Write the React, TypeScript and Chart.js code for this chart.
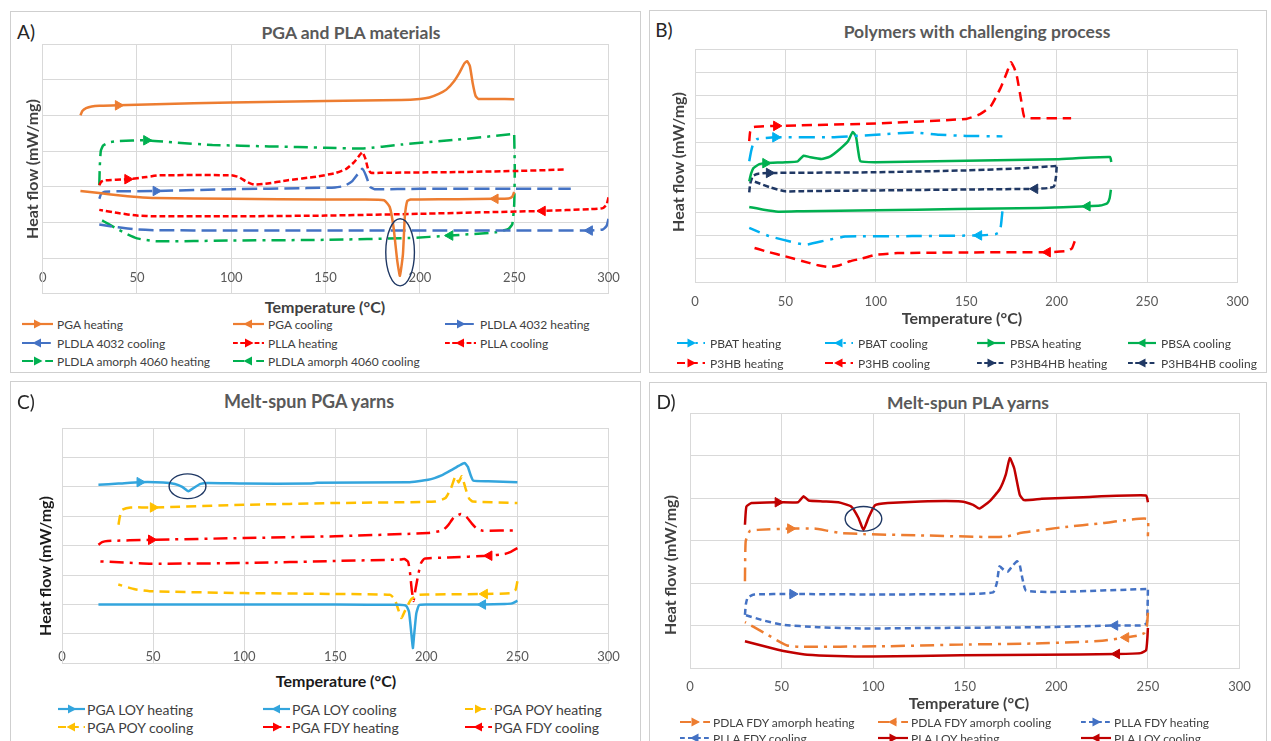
import React, { useEffect, useRef } from 'react';
import { Chart, registerables } from 'chart.js';

Chart.register(...registerables);

const FONT = 'Lato, "Open Sans", "Liberation Sans", sans-serif';
Chart.defaults.font.family = FONT;

// ---------- shared axis ticks ----------
const tempTicks = [0, 50, 100, 150, 200, 250, 300];

// ---------- Panel A: PGA and PLA materials ----------
const pgaHeatT = [20, 21, 23, 26, 30, 40, 60, 100, 150, 190, 200, 205, 210, 214, 218, 221, 223.5, 225, 226.5, 228, 229.5, 231, 240, 250];
const pgaHeatHF = [4.0, 4.12, 4.2, 4.25, 4.27, 4.28, 4.31, 4.36, 4.4, 4.43, 4.46, 4.5, 4.6, 4.72, 4.95, 5.2, 5.45, 5.52, 5.38, 4.9, 4.55, 4.46, 4.46, 4.45];
const pgaCoolT = [250, 249, 247, 240, 220, 200, 195, 193.3, 192, 191, 189.4, 188, 186, 184, 181, 170, 150, 100, 60, 50, 40, 30, 20];
const pgaCoolHF = [1.85, 1.72, 1.67, 1.66, 1.65, 1.64, 1.64, 1.6, 1.15, 0.1, -0.5, -0.08, 0.87, 1.43, 1.62, 1.64, 1.64, 1.66, 1.68, 1.71, 1.76, 1.82, 1.88];
const pldla4032HeatT = [30, 31, 33, 40, 60, 100, 140, 155, 160, 164, 167, 169.5, 171.5, 173.5, 176, 200, 250, 280];
const pldla4032HeatHF = [1.66, 1.8, 1.86, 1.87, 1.88, 1.93, 1.96, 1.98, 2.02, 2.15, 2.35, 2.5, 2.3, 2.0, 1.93, 1.94, 1.94, 1.94];
const pldla4032CoolT = [300, 299, 297, 290, 250, 200, 100, 60, 50, 40, 30];
const pldla4032CoolHF = [1.1, 0.9, 0.8, 0.77, 0.77, 0.77, 0.77, 0.78, 0.8, 0.86, 0.94];
const pllaHeatT = [30, 31, 33, 45, 55, 62, 100, 104, 108, 112, 118, 130, 145, 155, 161, 165, 168, 169.5, 171, 172.5, 174, 180, 220, 250, 277];
const pllaHeatHF = [2.04, 2.14, 2.18, 2.21, 2.27, 2.32, 2.32, 2.27, 2.14, 2.06, 2.08, 2.18, 2.28, 2.38, 2.5, 2.68, 2.88, 2.97, 2.8, 2.5, 2.39, 2.39, 2.41, 2.44, 2.48];
const pllaCoolT = [300, 299, 297, 290, 265, 240, 200, 150, 100, 60, 50, 40, 30];
const pllaCoolHF = [1.7, 1.5, 1.4, 1.37, 1.32, 1.29, 1.24, 1.19, 1.17, 1.17, 1.19, 1.26, 1.35];
const amorphHeatT = [30, 30.3, 30.8, 32, 35, 40, 55, 70, 90, 120, 150, 170, 190, 220, 250];
const amorphHeatHF = [2.04, 2.6, 3.0, 3.15, 3.24, 3.28, 3.3, 3.24, 3.17, 3.13, 3.09, 3.07, 3.18, 3.32, 3.48];
const amorphCoolT = [250, 250.3, 250, 249, 247, 240, 216, 194, 150, 100, 60, 50, 45, 40, 35, 30];
const amorphCoolHF = [3.45, 2.5, 1.5, 0.95, 0.82, 0.72, 0.63, 0.56, 0.51, 0.49, 0.47, 0.55, 0.66, 0.8, 0.95, 1.1];
const ellipseA = { cx: 189.5, cy: 0.16, rx: 7.6, ry: 0.94 };

// ---------- Panel B: Polymers with challenging process ----------
const pbatHeatT = [30, 31, 32.3, 34.5, 44.5, 75, 100, 121, 135, 150, 170];
const pbatHeatHF = [5.18, 5.6, 5.97, 6.14, 6.21, 6.21, 6.32, 6.42, 6.32, 6.27, 6.25];
const pbatCoolT = [170, 169.3, 168.5, 166, 157, 120, 90, 83, 72, 61, 52, 41, 30];
const pbatCoolHF = [3.03, 2.5, 2.15, 2.05, 2.0, 1.97, 1.96, 1.95, 1.78, 1.6, 1.75, 1.97, 2.32];
const pbsaHeatT = [30, 31, 32.3, 35.6, 39, 50, 56.8, 60, 63.4, 70, 74.6, 80, 84.6, 87.2, 89, 90.3, 91.5, 100, 150, 200, 229.5, 230.2];
const pbsaHeatHF = [4.32, 4.65, 4.89, 5.06, 5.1, 5.14, 5.18, 5.42, 5.36, 5.28, 5.38, 5.7, 6.04, 6.44, 6.25, 5.6, 5.18, 5.14, 5.2, 5.27, 5.36, 5.15];
const pbsaCoolT = [230, 229.3, 228, 224, 217, 190, 145, 100, 60, 46, 38, 30];
const pbsaCoolHF = [3.96, 3.6, 3.38, 3.28, 3.25, 3.18, 3.13, 3.08, 3.04, 3.02, 3.1, 3.22];
const p3hbHeatT = [30, 30.5, 32, 45, 100, 150, 157, 163.5, 169, 172.5, 174.7, 176.5, 178, 180.3, 182, 185, 208];
const p3hbHeatHF = [6.05, 6.45, 6.65, 6.7, 6.8, 7.0, 7.18, 7.54, 8.33, 9.0, 9.43, 9.2, 8.83, 7.83, 7.1, 7.03, 7.03];
const p3hbCoolT = [210, 208.5, 206, 195, 150, 112, 100, 92, 85.7, 80, 74.6, 68, 63, 50, 40, 30];
const p3hbCoolHF = [1.75, 1.45, 1.33, 1.28, 1.27, 1.24, 1.17, 1.0, 0.89, 0.72, 0.64, 0.72, 0.82, 1.1, 1.3, 1.53];
const p3hb4hbHeatT = [30, 30.5, 32, 35, 41, 100, 150, 180, 200];
const p3hb4hbHeatHF = [3.85, 4.2, 4.55, 4.65, 4.68, 4.71, 4.79, 4.88, 4.98];
const p3hb4hbCoolT = [200, 199.6, 198.5, 195, 188, 150, 100, 60, 50, 42, 35, 30];
const p3hb4hbCoolHF = [4.95, 4.5, 4.1, 4.03, 4.0, 3.97, 3.93, 3.9, 3.89, 4.05, 4.25, 4.39];

// ---------- Panel C: Melt-spun PGA yarns ----------
const loyHeatT = [20, 31, 42.7, 55.5, 62, 66, 69.4, 72.5, 76, 80, 100, 136, 140, 190, 201, 208.7, 214, 218, 221, 222.8, 224.3, 225.8, 234, 250];
const loyHeatHF = [5.07, 5.11, 5.16, 5.15, 5.1, 5.0, 4.85, 4.97, 5.1, 5.13, 5.11, 5.11, 5.14, 5.16, 5.24, 5.4, 5.58, 5.72, 5.81, 5.68, 5.4, 5.21, 5.19, 5.16];
const loyCoolT = [250, 247, 243, 231, 200, 196, 194.5, 193.2, 192.6, 191.8, 190.5, 189, 185, 150, 100, 50, 20];
const loyCoolHF = [1.13, 1.04, 1.02, 1.0, 1.0, 0.98, 0.7, -0.1, -0.48, 0.0, 0.75, 0.95, 0.99, 1.0, 1.0, 1.0, 1.0];
const poyHeatT = [31, 31.8, 33, 37.6, 50, 100, 150, 205, 210.5, 213.5, 216, 217.7, 219.5, 221.5, 223.5, 225.5, 250];
const poyHeatHF = [3.71, 4.0, 4.22, 4.3, 4.3, 4.39, 4.45, 4.5, 4.62, 4.95, 5.36, 5.15, 5.36, 4.95, 4.6, 4.5, 4.45];
const poyCoolT = [250, 249, 247, 232, 200, 195, 192, 190, 188, 186.3, 184.5, 182.5, 180, 150, 100, 50, 40, 30.9];
const poyCoolHF = [1.79, 1.5, 1.39, 1.36, 1.34, 1.32, 1.2, 1.0, 0.75, 0.54, 0.85, 1.2, 1.33, 1.36, 1.39, 1.45, 1.52, 1.68];
const fdyHeatT = [20, 22, 25, 49, 100, 150, 201, 209, 212, 215, 219, 222, 225, 228, 231, 250];
const fdyHeatHF = [3.03, 3.12, 3.16, 3.2, 3.26, 3.32, 3.43, 3.52, 3.7, 3.95, 4.08, 3.98, 3.75, 3.56, 3.51, 3.52];
const fdyCoolT = [250, 246, 243, 234.5, 212, 199, 197, 195.5, 194, 193, 192, 191, 190, 188, 186, 150, 100, 49, 20];
const fdyCoolHF = [2.92, 2.78, 2.72, 2.66, 2.6, 2.56, 2.4, 2.0, 1.5, 1.12, 1.5, 2.1, 2.45, 2.55, 2.53, 2.48, 2.41, 2.39, 2.47];
const ellipseC = { cx: 68.9, cy: 5.02, rx: 10.1, ry: 0.42 };

// ---------- Panel D: Melt-spun PLA yarns ----------
const pdlaHeatT = [30, 30.4, 32.6, 37, 54.8, 68, 75, 81.4, 94.7, 126, 165.7, 173.5, 181, 203, 225.6, 249.6, 250];
const pdlaHeatHF = [2.04, 2.98, 3.22, 3.25, 3.28, 3.28, 3.23, 3.18, 3.15, 3.12, 3.08, 3.1, 3.18, 3.31, 3.41, 3.51, 3.1];
const pdlaCoolT = [250, 249.5, 248, 244, 238, 225, 192, 148, 104, 60, 53, 50, 40, 30];
const pdlaCoolHF = [1.3, 1.0, 0.82, 0.76, 0.72, 0.64, 0.58, 0.55, 0.51, 0.5, 0.53, 0.59, 0.84, 1.08];
const pllaFdyHeatT = [30, 30.5, 31.5, 35, 56, 100, 150, 165.5, 167.5, 169, 171.5, 173.5, 176, 178.6, 180, 181.5, 183.5, 200, 249.5];
const pllaFdyHeatHF = [1.25, 1.5, 1.66, 1.73, 1.74, 1.73, 1.74, 1.78, 2.0, 2.39, 2.3, 2.27, 2.4, 2.51, 2.43, 2.1, 1.82, 1.79, 1.86];
const pllaFdyCoolT = [250, 249.8, 249.3, 246, 232, 192, 126, 95, 70, 50, 40, 30];
const pllaFdyCoolHF = [1.84, 1.4, 1.05, 1.0, 1.0, 0.96, 0.94, 0.93, 0.96, 1.02, 1.12, 1.25];
const plaLoyHeatT = [30, 30.8, 33.7, 48, 59, 62, 64.8, 72.5, 81, 88, 92, 94.7, 97.4, 101, 108, 126, 148, 154.6, 158, 163.5, 169, 172.4, 174.6, 177, 180, 182.4, 192, 214.5, 249, 250];
const plaLoyHeatHF = [3.37, 3.8, 3.88, 3.9, 3.9, 4.04, 3.94, 3.92, 3.9, 3.8, 3.53, 3.25, 3.53, 3.83, 3.88, 3.92, 3.92, 3.84, 3.75, 3.92, 4.2, 4.55, 4.94, 4.7, 4.08, 3.95, 3.98, 4.02, 4.06, 3.9];
const plaLoyCoolT = [250, 249.7, 249, 246, 233, 192, 148, 100, 80, 64, 55, 48, 30];
const plaLoyCoolHF = [0.94, 0.7, 0.42, 0.35, 0.33, 0.31, 0.3, 0.27, 0.28, 0.31, 0.37, 0.43, 0.63];
const ellipseD = { cx: 94.7, cy: 3.51, rx: 10, ry: 0.29 };

// ---------- styles ----------
const ORANGE = '#ED7D31';
const BLUE = '#4472C4';
const RED = '#FF0000';
const GREEN = '#00B050';
const CYAN = '#00B0F0';
const NAVY = '#203864';
const SKY = '#33A5DD';
const GOLD = '#FFC000';
const DARKRED = '#C00000';
const GRID = '#D9D9D9';

const SOLID: number[] = [];
const LONGDASH = [15, 6];
const SHORTDASH = [6, 3];
const DASH = [10, 6];
const DASHDOT = [14, 6, 3, 6];

type Curve = { label: string; t: number[]; hf: number[]; color: string; dash: number[]; dir: number; arrowT: number };
type Ell = { cx: number; cy: number; rx: number; ry: number };
type PanelCfg = {
  letter: string; title: string; titleSize: number;
  box: { l: number; t: number; r: number; b: number };
  letterPos: [number, number]; titlePos: [number, number];
  plot: { l: number; r: number; t: number; b: number };
  yMin: number; yMax: number; labelY: number;
  xTitlePos: [number, number]; yTitlePos: [number, number]; axisTitleColor: string;
  legend: { swatchX: number[]; textDx: number; swW: number; rows: number[]; size: number };
  curves: Curve[];
  ellipse?: Ell;
};

const panels: PanelCfg[] = [
  {
    letter: 'A)', title: 'PGA and PLA materials', titleSize: 17.5,
    box: { l: 10, t: 11, r: 641, b: 373 },
    letterPos: [26, 31], titlePos: [351, 33],
    plot: { l: 42.7, r: 608.5, t: 44, b: 293.7 }, yMin: -1, yMax: 6, labelY: 278,
    xTitlePos: [325, 307], yTitlePos: [32, 169], axisTitleColor: '#404040',
    legend: { swatchX: [22, 233, 445], textDx: 35, swW: 31, rows: [324, 343, 361], size: 12 },
    curves: [
      { label: 'PGA heating', t: pgaHeatT, hf: pgaHeatHF, color: ORANGE, dash: SOLID, dir: 1, arrowT: 40 },
      { label: 'PGA cooling', t: pgaCoolT, hf: pgaCoolHF, color: ORANGE, dash: SOLID, dir: -1, arrowT: 240 },
      { label: 'PLDLA 4032 heating', t: pldla4032HeatT, hf: pldla4032HeatHF, color: BLUE, dash: LONGDASH, dir: 1, arrowT: 60 },
      { label: 'PLDLA 4032 cooling', t: pldla4032CoolT, hf: pldla4032CoolHF, color: BLUE, dash: LONGDASH, dir: -1, arrowT: 275 },
      { label: 'PLLA heating', t: pllaHeatT, hf: pllaHeatHF, color: RED, dash: SHORTDASH, dir: 1, arrowT: 45 },
      { label: 'PLLA cooling', t: pllaCoolT, hf: pllaCoolHF, color: RED, dash: SHORTDASH, dir: -1, arrowT: 265 },
      { label: 'PLDLA amorph 4060 heating', t: amorphHeatT, hf: amorphHeatHF, color: GREEN, dash: DASHDOT, dir: 1, arrowT: 55 },
      { label: 'PLDLA amorph 4060 cooling', t: amorphCoolT, hf: amorphCoolHF, color: GREEN, dash: DASHDOT, dir: -1, arrowT: 216 },
    ],
    ellipse: ellipseA,
  },
  {
    letter: 'B)', title: 'Polymers with challenging process', titleSize: 17.5,
    box: { l: 649, t: 10, r: 1267, b: 373 },
    letterPos: [664, 29], titlePos: [977, 32],
    plot: { l: 695, r: 1241, t: 49, b: 282 }, yMin: 0, yMax: 10, labelY: 302,
    xTitlePos: [962, 318], yTitlePos: [678, 162], axisTitleColor: '#404040',
    legend: { swatchX: [677, 825, 977, 1128], textDx: 33, swW: 28, rows: [343, 363], size: 12 },
    curves: [
      { label: 'PBAT heating', t: pbatHeatT, hf: pbatHeatHF, color: CYAN, dash: [16, 7, 3, 7], dir: 1, arrowT: 45 },
      { label: 'PBAT cooling', t: pbatCoolT, hf: pbatCoolHF, color: CYAN, dash: [16, 7, 3, 7], dir: -1, arrowT: 157 },
      { label: 'PBSA heating', t: pbsaHeatT, hf: pbsaHeatHF, color: GREEN, dash: SOLID, dir: 1, arrowT: 39 },
      { label: 'PBSA cooling', t: pbsaCoolT, hf: pbsaCoolHF, color: GREEN, dash: SOLID, dir: -1, arrowT: 217 },
      { label: 'P3HB heating', t: p3hbHeatT, hf: p3hbHeatHF, color: RED, dash: DASH, dir: 1, arrowT: 45 },
      { label: 'P3HB cooling', t: p3hbCoolT, hf: p3hbCoolHF, color: RED, dash: DASH, dir: -1, arrowT: 195 },
      { label: 'P3HB4HB heating', t: p3hb4hbHeatT, hf: p3hb4hbHeatHF, color: NAVY, dash: SHORTDASH, dir: 1, arrowT: 41 },
      { label: 'P3HB4HB cooling', t: p3hb4hbCoolT, hf: p3hb4hbCoolHF, color: NAVY, dash: SHORTDASH, dir: -1, arrowT: 188 },
    ],
  },
  {
    letter: 'C)', title: 'Melt-spun PGA yarns', titleSize: 18,
    box: { l: 10, t: 381, r: 641, b: 760 },
    letterPos: [26, 401], titlePos: [309, 401],
    plot: { l: 62, r: 608.5, t: 428, b: 663.4 }, yMin: -1, yMax: 7, labelY: 657,
    xTitlePos: [336, 681], yTitlePos: [45, 566], axisTitleColor: '#1a1a1a',
    legend: { swatchX: [58, 263, 465], textDx: 29, swW: 27, rows: [709, 727], size: 14 },
    curves: [
      { label: 'PGA LOY heating', t: loyHeatT, hf: loyHeatHF, color: SKY, dash: SOLID, dir: 1, arrowT: 43 },
      { label: 'PGA LOY cooling', t: loyCoolT, hf: loyCoolHF, color: SKY, dash: SOLID, dir: -1, arrowT: 231 },
      { label: 'PGA POY heating', t: poyHeatT, hf: poyHeatHF, color: GOLD, dash: DASH, dir: 1, arrowT: 50 },
      { label: 'PGA POY cooling', t: poyCoolT, hf: poyCoolHF, color: GOLD, dash: DASH, dir: -1, arrowT: 232 },
      { label: 'PGA FDY heating', t: fdyHeatT, hf: fdyHeatHF, color: RED, dash: DASHDOT, dir: 1, arrowT: 49 },
      { label: 'PGA FDY cooling', t: fdyCoolT, hf: fdyCoolHF, color: RED, dash: DASHDOT, dir: -1, arrowT: 234.5 },
    ],
    ellipse: ellipseC,
  },
  {
    letter: 'D)', title: 'Melt-spun PLA yarns', titleSize: 17.5,
    box: { l: 649, t: 382, r: 1267, b: 760 },
    letterPos: [666, 401], titlePos: [968, 403],
    plot: { l: 690, r: 1242, t: 413, b: 668 }, yMin: 0, yMax: 6, labelY: 687,
    xTitlePos: [969, 703], yTitlePos: [670, 565], axisTitleColor: '#404040',
    legend: { swatchX: [680, 878, 1081], textDx: 33, swW: 30, rows: [722, 738], size: 12 },
    curves: [
      { label: 'PDLA FDY amorph heating', t: pdlaHeatT, hf: pdlaHeatHF, color: ORANGE, dash: DASHDOT, dir: 1, arrowT: 55 },
      { label: 'PDLA FDY amorph cooling', t: pdlaCoolT, hf: pdlaCoolHF, color: ORANGE, dash: DASHDOT, dir: -1, arrowT: 238 },
      { label: 'PLLA FDY heating', t: pllaFdyHeatT, hf: pllaFdyHeatHF, color: BLUE, dash: [6, 4], dir: 1, arrowT: 56 },
      { label: 'PLLA FDY cooling', t: pllaFdyCoolT, hf: pllaFdyCoolHF, color: BLUE, dash: [6, 4], dir: -1, arrowT: 232 },
      { label: 'PLA LOY heating', t: plaLoyHeatT, hf: plaLoyHeatHF, color: DARKRED, dash: SOLID, dir: 1, arrowT: 48 },
      { label: 'PLA LOY cooling', t: plaLoyCoolT, hf: plaLoyCoolHF, color: DARKRED, dash: SOLID, dir: -1, arrowT: 233 },
    ],
    ellipse: ellipseD,
  },
];

const ellipsePlugin = {
  id: 'ellipse',
  afterDatasetsDraw(chart: any, _args: any, opts: any) {
    if (!opts || opts.cx === undefined) return;
    const xs = chart.scales.x;
    const ys = chart.scales.y;
    const cx = xs.getPixelForValue(opts.cx);
    const cy = ys.getPixelForValue(opts.cy);
    const rx = Math.abs(xs.getPixelForValue(opts.cx + opts.rx) - cx);
    const ry = Math.abs(ys.getPixelForValue(opts.cy + opts.ry) - cy);
    const ctx = chart.ctx;
    ctx.save();
    ctx.beginPath();
    ctx.ellipse(cx, cy, rx, ry, 0, 0, Math.PI * 2);
    ctx.strokeStyle = '#1F3864';
    ctx.lineWidth = 1.4;
    ctx.stroke();
    ctx.restore();
  },
};

const TICK_SIZE = 13;

function Plot({ p }: { p: PanelCfg }) {
  const ref = useRef<HTMLCanvasElement>(null);
  const PAD = 20;
  const inside = p.labelY < p.plot.b;
  const axisH = inside ? 0 : 32;
  const cl = Math.floor(p.plot.l - PAD);
  const ct = Math.floor(p.plot.t - 10);
  const cw = Math.ceil(p.plot.r + PAD) - cl;
  const ch = Math.ceil(p.plot.b + axisH + 2) - ct;
  const padL = p.plot.l - cl;
  const padT = p.plot.t - ct;
  const padR = cl + cw - p.plot.r;
  const padB = ct + ch - (p.plot.b + axisH);
  const half = (TICK_SIZE * 1.2) / 2;
  // inside labels are mirrored (drawn above the axis line); outside ones below it
  const tickPad = inside ? p.plot.b - p.labelY - half : p.labelY - p.plot.b - half;

  useEffect(() => {
    const canvas = ref.current;
    if (!canvas) return;
    const datasets = p.curves.map((cv) => {
      const data = cv.t.map((x, i) => ({ x, y: cv.hf[i] }));
      let idx = 0;
      let best = Infinity;
      cv.t.forEach((x, i) => {
        const d = Math.abs(x - cv.arrowT);
        if (d < best) { best = d; idx = i; }
      });
      return {
        label: cv.label,
        data,
        borderColor: cv.color,
        backgroundColor: cv.color,
        borderWidth: 2.5,
        borderDash: cv.dash,
        tension: 0.15,
        fill: false,
        pointRadius: data.map((_, i) => (i === idx ? 5.5 : 0)),
        pointHoverRadius: 0,
        pointStyle: 'triangle',
        pointRotation: cv.dir > 0 ? 90 : -90,
        pointBackgroundColor: cv.color,
        pointBorderColor: cv.color,
        pointBorderWidth: 1,
      };
    });
    const chart = new Chart(canvas, {
      type: 'line',
      data: { datasets: datasets as any },
      options: {
        responsive: false,
        animation: false,
        events: [],
        layout: { padding: { left: padL, right: padR, top: padT, bottom: padB } },
        plugins: {
          legend: { display: false },
          tooltip: { enabled: false },
          ellipse: p.ellipse ? p.ellipse : false,
        } as any,
        scales: {
          x: {
            type: 'linear',
            min: 0,
            max: 300,
            afterBuildTicks: (ax: any) => { ax.ticks = tempTicks.map((v) => ({ value: v })); },
            ticks: {
              color: '#595959', font: { size: TICK_SIZE, family: FONT }, padding: tickPad,
              mirror: inside, autoSkip: false, maxRotation: 0,
            },
            grid: { color: GRID, drawTicks: false, lineWidth: 1 },
            border: { color: GRID },
            afterFit: (ax: any) => { ax.height = axisH; },
          },
          y: {
            type: 'linear',
            min: p.yMin,
            max: p.yMax,
            ticks: { display: false, stepSize: 1 },
            grid: { color: GRID, drawTicks: false, lineWidth: 1 },
            border: { color: GRID },
            afterFit: (ax: any) => { ax.width = 0; },
          },
        },
      } as any,
      plugins: [ellipsePlugin as any],
    });
    return () => chart.destroy();
  }, []);

  return <canvas ref={ref} width={cw} height={ch} style={{ position: 'absolute', left: cl, top: ct, width: cw, height: ch }} />;
}

function Txt({ x, y, children, size, weight, color, rotate }: any) {
  return (
    <div
      style={{
        position: 'absolute', left: x, top: y, whiteSpace: 'nowrap',
        transform: `translate(-50%, -50%)${rotate ? ' rotate(-90deg)' : ''}`,
        fontSize: size, fontWeight: weight, color, lineHeight: 1, fontFamily: FONT,
      }}
    >
      {children}
    </div>
  );
}

function Swatch({ c, w }: { c: Curve; w: number }) {
  const cy = 6;
  const cx = w / 2;
  const tri = c.dir > 0
    ? `${cx + 5},${cy} ${cx - 3.5},${cy - 4.5} ${cx - 3.5},${cy + 4.5}`
    : `${cx - 5},${cy} ${cx + 3.5},${cy - 4.5} ${cx + 3.5},${cy + 4.5}`;
  return (
    <svg width={w} height={12} style={{ position: 'absolute', left: 0, top: -6 }}>
      <line x1={0} y1={cy} x2={w} y2={cy} stroke={c.color} strokeWidth={2.2}
        strokeDasharray={c.dash.length ? c.dash.map((d) => d * 0.8).join(' ') : undefined} />
      <polygon points={tri} fill={c.color} />
    </svg>
  );
}

function Panel({ p }: { p: PanelCfg }) {
  const ncols = p.legend.swatchX.length;
  return (
    <>
      <div style={{
        position: 'absolute', left: p.box.l, top: p.box.t, width: p.box.r - p.box.l, height: p.box.b - p.box.t,
        border: '1px solid #CFCFCF', boxSizing: 'border-box',
      }} />
      <Txt x={p.letterPos[0]} y={p.letterPos[1]} size={19} weight={400} color="#262626">{p.letter}</Txt>
      <Txt x={p.titlePos[0]} y={p.titlePos[1]} size={p.titleSize} weight={700} color="#595959">{p.title}</Txt>
      <Plot p={p} />
      <Txt x={p.xTitlePos[0]} y={p.xTitlePos[1]} size={16} weight={700} color={p.axisTitleColor}>Temperature (°C)</Txt>
      <Txt x={p.yTitlePos[0]} y={p.yTitlePos[1]} size={16} weight={700} color={p.axisTitleColor} rotate>Heat flow (mW/mg)</Txt>
      {p.curves.map((c, i) => {
        const col = i % ncols;
        const row = Math.floor(i / ncols);
        return (
          <div key={c.label} style={{ position: 'absolute', left: p.legend.swatchX[col], top: p.legend.rows[row], height: 0 }}>
            <Swatch c={c} w={p.legend.swW} />
            <span style={{
              position: 'absolute', left: p.legend.textDx, top: 0, transform: 'translateY(-50%)',
              whiteSpace: 'nowrap', fontSize: p.legend.size, color: '#404040', lineHeight: '15px', fontFamily: FONT,
            }}>{c.label}</span>
          </div>
        );
      })}
    </>
  );
}

export default function App() {
  return (
    <div style={{
      position: 'fixed', left: 0, top: 0, width: 1271, height: 741, overflow: 'hidden',
      background: '#ffffff', fontFamily: FONT,
    }}>
      {panels.map((p) => <Panel key={p.letter} p={p} />)}
    </div>
  );
}
